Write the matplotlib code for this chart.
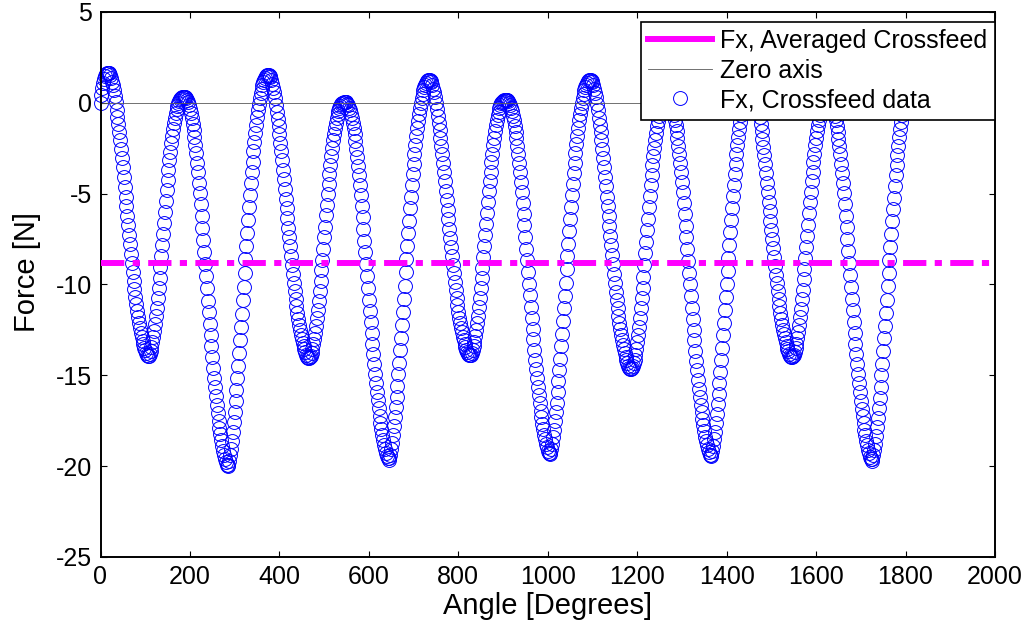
# -*- coding: utf-8 -*-
"""
Crossfeed force plot: Fx versus rotation angle with the averaged value.
"""

import numpy as np
import matplotlib.pyplot as plt
from matplotlib.lines import Line2D

plt.rcParams['font.family'] = ['Liberation Sans', 'DejaVu Sans']
plt.rcParams['axes.unicode_minus'] = False

# angle grid of the crossfeed record (deg), one sample every 2 degrees
ANGLE_START = 0
ANGLE_END = 1800
ANGLE_STEP = 2

# Fx crossfeed data [N], split by revolution
force_1 = [  # 0 .. 374 deg
    0.0, 0.45, 0.8, 1.1, 1.33, 1.5, 1.6, 1.65, 1.66,
    1.66, 1.63, 1.54, 1.38, 1.16, 0.96, 0.72, 0.38, 0.02, -0.37,
    -0.76, -1.15, -1.6, -2.07, -2.54, -3.02, -3.55, -4.08, -4.63, -5.16,
    -5.69, -6.22, -6.75, -7.27, -7.78, -8.3, -8.8, -9.3, -9.78, -10.23,
    -10.67, -11.08, -11.47, -11.81, -12.12, -12.4, -12.65, -12.89, -13.11, -13.29,
    -13.47, -13.62, -13.76, -13.87, -13.95,
    -13.91, -13.81, -13.65, -13.45, -13.19, -12.89, -12.55, -12.16, -11.74, -11.27,
    -10.75, -10.21, -9.64, -9.05, -8.45, -7.84, -7.22, -6.61, -6.0, -5.38,
    -4.8, -4.23, -3.68, -3.17, -2.68, -2.23, -1.81, -1.44, -1.11, -0.81,
    -0.56, -0.34, -0.16, 0.0, 0.12, 0.2, 0.26, 0.3, 0.33, 0.33,
    0.33,
    0.31, 0.25, 0.15, 0.03, -0.14, -0.34, -0.58, -0.85, -1.15, -1.5,
    -1.89, -2.31, -2.78, -3.29, -3.82, -4.39, -4.98, -5.59, -6.22, -6.87,
    -7.54, -8.21, -8.88, -9.55, -10.22, -10.89, -11.54, -12.17, -12.8, -13.41,
    -14.0, -14.57, -15.12, -15.65, -16.16, -16.63, -17.07, -17.5, -17.89, -18.25,
    -18.58, -18.88, -19.15, -19.39, -19.59, -19.78, -19.92, -20.0,
    -19.91, -19.7, -19.4, -19.03, -18.6, -18.11, -17.59, -17.03, -16.43, -15.8,
    -15.16, -14.49, -13.78, -13.07, -12.34, -11.6, -10.87, -10.12, -9.36, -8.61,
    -7.88, -7.15, -6.44, -5.75, -5.08, -4.43, -3.81, -3.23, -2.67, -2.15,
    -1.66, -1.2, -0.8, -0.41, -0.06, 0.24, 0.52, 0.75, 0.97, 1.14,
    1.27, 1.38, 1.47, 1.51, 1.53,
]
force_2 = [  # 376 .. 734 deg
    1.53,
    1.5, 1.41, 1.25, 1.03, 0.83, 0.6, 0.25, -0.11, -0.5, -0.88,
    -1.27, -1.73, -2.19, -2.66, -3.14, -3.67, -4.2, -4.75, -5.28, -5.81,
    -6.34, -6.87, -7.38, -7.9, -8.41, -8.91, -9.41, -9.89, -10.34, -10.78,
    -11.18, -11.57, -11.92, -12.23, -12.51, -12.76, -12.99, -13.21, -13.4, -13.57,
    -13.72, -13.86, -13.97, -14.05, -14.05,
    -14.01, -13.91, -13.75, -13.56, -13.3, -13.01, -12.67, -12.29, -11.87, -11.4,
    -10.89, -10.36, -9.79, -9.22, -8.63, -8.02, -7.41, -6.81, -6.2, -5.6,
    -5.02, -4.45, -3.92, -3.41, -2.93, -2.48, -2.07, -1.71, -1.38, -1.09,
    -0.83, -0.62, -0.44, -0.28, -0.17, -0.09, -0.03, 0.01, 0.04, 0.04,
    0.04,
    0.02, -0.04, -0.14, -0.26, -0.41, -0.61, -0.85, -1.1, -1.4, -1.73,
    -2.11, -2.52, -2.97, -3.46, -3.98, -4.53, -5.1, -5.69, -6.3, -6.93,
    -7.58, -8.23, -8.88, -9.53, -10.18, -10.83, -11.46, -12.07, -12.68, -13.27,
    -13.84, -14.39, -14.92, -15.44, -15.93, -16.38, -16.81, -17.23, -17.6, -17.96,
    -18.27, -18.57, -18.82, -19.06, -19.26, -19.43, -19.57, -19.65,
    -19.57, -19.36, -19.06, -18.71, -18.29, -17.81, -17.31, -16.77, -16.18, -15.57,
    -14.95, -14.3, -13.61, -12.92, -12.21, -11.5, -10.79, -10.06, -9.33, -8.59,
    -7.88, -7.17, -6.48, -5.81, -5.17, -4.54, -3.93, -3.37, -2.83, -2.32,
    -1.84, -1.4, -1.01, -0.63, -0.3, 0.0, 0.27, 0.5, 0.71, 0.87,
    1.0, 1.1, 1.19, 1.23, 1.25,
]
force_3 = [  # 736 .. 1094 deg
    1.25,
    1.22, 1.13, 0.98, 0.77, 0.57, 0.34, 0.01, -0.34, -0.72, -1.1,
    -1.48, -1.92, -2.37, -2.83, -3.29, -3.81, -4.33, -4.86, -5.37, -5.89,
    -6.4, -6.92, -7.42, -7.92, -8.42, -8.9, -9.39, -9.85, -10.29, -10.72,
    -11.11, -11.49, -11.82, -12.13, -12.4, -12.64, -12.87, -13.08, -13.26, -13.43,
    -13.58, -13.72, -13.82, -13.9, -13.9,
    -13.86, -13.76, -13.6, -13.41, -13.15, -12.86, -12.52, -12.14, -11.72, -11.25,
    -10.75, -10.21, -9.65, -9.07, -8.48, -7.87, -7.27, -6.66, -6.06, -5.45,
    -4.87, -4.31, -3.78, -3.27, -2.79, -2.34, -1.93, -1.57, -1.24, -0.95,
    -0.69, -0.48, -0.3, -0.14, -0.03, 0.05, 0.11, 0.15, 0.18, 0.18,
    0.18,
    0.16, 0.1, 0.0, -0.11, -0.27, -0.46, -0.7, -0.95, -1.25, -1.58,
    -1.95, -2.36, -2.81, -3.3, -3.8, -4.35, -4.92, -5.5, -6.11, -6.73,
    -7.38, -8.02, -8.67, -9.31, -9.96, -10.6, -11.23, -11.83, -12.44, -13.02,
    -13.59, -14.14, -14.66, -15.17, -15.66, -16.11, -16.54, -16.95, -17.32, -17.67,
    -17.98, -18.28, -18.53, -18.76, -18.96, -19.14, -19.27, -19.35,
    -19.27, -19.06, -18.77, -18.42, -18.01, -17.54, -17.04, -16.51, -15.93, -15.33,
    -14.71, -14.08, -13.4, -12.72, -12.02, -11.32, -10.62, -9.89, -9.17, -8.45,
    -7.75, -7.05, -6.37, -5.71, -5.07, -4.46, -3.86, -3.3, -2.77, -2.27,
    -1.8, -1.37, -0.97, -0.6, -0.27, 0.01, 0.28, 0.51, 0.71, 0.88,
    1.0, 1.11, 1.19, 1.23, 1.25,
]
force_4 = [  # 1096 .. 1454 deg
    1.25,
    1.22, 1.12, 0.96, 0.74, 0.53, 0.3, -0.05, -0.42, -0.82, -1.21,
    -1.61, -2.07, -2.55, -3.03, -3.52, -4.06, -4.6, -5.16, -5.7, -6.24,
    -6.78, -7.32, -7.84, -8.37, -8.89, -9.4, -9.91, -10.4, -10.87, -11.31,
    -11.72, -12.12, -12.47, -12.79, -13.08, -13.33, -13.57, -13.79, -13.98, -14.16,
    -14.32, -14.46, -14.57, -14.65, -14.65,
    -14.61, -14.5, -14.34, -14.13, -13.86, -13.55, -13.19, -12.79, -12.35, -11.86,
    -11.32, -10.76, -10.17, -9.56, -8.93, -8.29, -7.66, -7.02, -6.38, -5.74,
    -5.13, -4.54, -3.97, -3.44, -2.93, -2.46, -2.03, -1.64, -1.3, -0.99,
    -0.72, -0.5, -0.3, -0.14, -0.02, 0.07, 0.13, 0.17, 0.2, 0.2,
    0.2,
    0.18, 0.12, 0.02, -0.09, -0.25, -0.45, -0.68, -0.94, -1.23, -1.57,
    -1.94, -2.35, -2.81, -3.3, -3.81, -4.36, -4.93, -5.52, -6.13, -6.76,
    -7.4, -8.05, -8.7, -9.35, -10.0, -10.65, -11.28, -11.88, -12.49, -13.08,
    -13.65, -14.2, -14.73, -15.24, -15.74, -16.19, -16.62, -17.03, -17.41, -17.76,
    -18.07, -18.37, -18.62, -18.86, -19.06, -19.23, -19.37, -19.45,
    -19.37, -19.16, -18.87, -18.52, -18.11, -17.63, -17.14, -16.6, -16.02, -15.42,
    -14.8, -14.16, -13.48, -12.8, -12.1, -11.4, -10.69, -9.97, -9.25, -8.53,
    -7.82, -7.12, -6.44, -5.78, -5.14, -4.52, -3.92, -3.36, -2.83, -2.33,
    -1.86, -1.42, -1.03, -0.66, -0.33, -0.04, 0.23, 0.46, 0.66, 0.83,
    0.95, 1.06, 1.14, 1.18, 1.2,
]
force_5 = [  # 1456 .. 1800 deg
    1.2,
    1.17, 1.08, 0.93, 0.71, 0.52, 0.29, -0.05, -0.4, -0.78, -1.16,
    -1.54, -1.98, -2.43, -2.89, -3.36, -3.88, -4.39, -4.93, -5.44, -5.96,
    -6.48, -6.99, -7.49, -8.0, -8.5, -8.98, -9.47, -9.94, -10.38, -10.81,
    -11.2, -11.58, -11.92, -12.22, -12.5, -12.74, -12.97, -13.18, -13.36, -13.53,
    -13.68, -13.82, -13.92, -14.0, -14.0,
    -13.96, -13.86, -13.7, -13.5, -13.25, -12.95, -12.61, -12.22, -11.8, -11.33,
    -10.82, -10.28, -9.71, -9.13, -8.53, -7.92, -7.31, -6.7, -6.09, -5.48,
    -4.9, -4.33, -3.79, -3.28, -2.8, -2.34, -1.93, -1.56, -1.23, -0.94,
    -0.68, -0.47, -0.28, -0.13, -0.01, 0.07, 0.13, 0.17, 0.2, 0.2,
    0.2,
    0.18, 0.12, 0.02, -0.1, -0.26, -0.46, -0.7, -0.95, -1.25, -1.59,
    -1.97, -2.39, -2.84, -3.34, -3.86, -4.42, -4.99, -5.59, -6.21, -6.84,
    -7.5, -8.16, -8.81, -9.47, -10.13, -10.78, -11.42, -12.04, -12.66, -13.25,
    -13.83, -14.39, -14.92, -15.44, -15.94, -16.4, -16.83, -17.25, -17.63, -17.99,
    -18.31, -18.61, -18.86, -19.1, -19.3, -19.48, -19.62, -19.7,
    -19.62, -19.41, -19.11, -18.76, -18.34, -17.86, -17.36, -16.82, -16.23, -15.62,
    -15.0, -14.35, -13.66, -12.97, -12.26, -11.55, -10.84, -10.11, -9.38, -8.64,
    -7.93, -7.22, -6.53, -5.86, -5.22, -4.59, -3.98, -3.42, -2.88, -2.37,
    -1.89, -1.45, -1.06, -0.68, -0.35, -0.05, 0.22, 0.45,
]

# averaged crossfeed value and the zero reference [N]
avg_force = -8.8
zero_force = 0.0
line_span = [0, 2000]

legend_labels = ['Fx, Averaged Crossfeed', 'Zero axis', 'Fx, Crossfeed data']
x_ticks = list(range(0, 2001, 200))
y_ticks = list(range(-25, 6, 5))


def create_force_plot():
    angle = np.arange(ANGLE_START, ANGLE_END + 1, ANGLE_STEP)
    force = np.array(force_1 + force_2 + force_3 + force_4 + force_5)
    assert len(angle) == len(force), (len(angle), len(force))

    fig = plt.figure(figsize=(10.29, 6.23), dpi=100)
    ax = fig.add_axes([100.5 / 1029, 1 - 557 / 623, 894.5 / 1029, 545 / 623])

    ax.plot(angle, force, ls='none', marker='o', ms=10, mfc='none',
            mec='#0000FF', mew=0.7, clip_on=False, zorder=2)
    ax.plot(line_span, [zero_force, zero_force], color='0.35', lw=0.6, zorder=2.5)
    ax.plot(line_span, [avg_force, avg_force], color='#FF00FF', lw=4.3,
            ls=(0, (3.9, 1.4, 1.2, 1.4)), dash_capstyle='butt', zorder=3)

    ax.set_xlim(0, 2000)
    ax.set_ylim(-25, 5)
    ax.set_xticks(x_ticks)
    ax.set_yticks(y_ticks)
    ax.tick_params(direction='in', top=True, right=True, length=4, width=0.8,
                   labelsize=18)
    ax.tick_params(axis='x', pad=6)
    ax.tick_params(axis='y', pad=6)
    for sp in ax.spines.values():
        sp.set_linewidth(1.4)

    ax.set_xlabel('Angle [Degrees]', fontsize=21, labelpad=2)
    ax.set_ylabel('Force [N]', fontsize=21)
    ax.yaxis.set_label_coords(-0.066, 0.523)

    handles = [
        Line2D([], [], color='#FF00FF', lw=4.3),
        Line2D([], [], color='0.35', lw=0.6),
        Line2D([], [], ls='none', marker='o', ms=10, mfc='none', mec='#0000FF', mew=0.7),
    ]
    leg = ax.legend(handles, legend_labels, loc='upper right',
                    bbox_to_anchor=(995 / 1029, 1 - 21.7 / 623),
                    bbox_transform=fig.transFigure, borderaxespad=0,
                    fontsize=18, handlelength=2.56, handletextpad=0.32,
                    labelspacing=0.22, borderpad=0.3, fancybox=False,
                    framealpha=1, edgecolor='k')
    leg.get_frame().set_linewidth(1.2)
    leg.set_zorder(5)

    fig.savefig('out.png', dpi=100, facecolor='white')
    plt.close(fig)


def main():
    create_force_plot()


if __name__ == '__main__':
    main()
